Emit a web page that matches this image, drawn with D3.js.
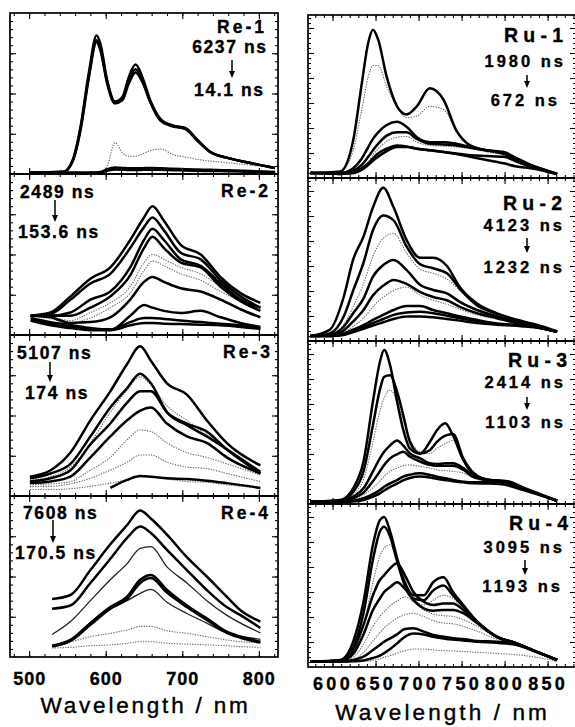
<!DOCTYPE html>
<html>
<head>
<meta charset="utf-8">
<script src="https://cdn.jsdelivr.net/npm/d3@7"></script>
<style>
body { margin: 0; background: #fff; }
text { font-family: "Liberation Sans", Arial, Helvetica, sans-serif; }
</style>
</head>
<body>
<div class="chart"></div>
<script>
// ---- data (intensity: 0 = panel bottom, 100 = panel top) ----
const re1Wl = [500, 545, 557, 567, 578, 588, 593, 602, 612, 622, 630, 639, 648, 658, 672, 688, 704, 720, 737, 759, 789, 821];
const re1Curves = [
  [0.8, 0.8, 0.8, 0.8, 0.8, 0.8, 1.2, 5, 19.5, 13, 11, 11, 12.5, 14.5, 15.5, 12, 10.5, 9, 8, 7, 5.5, 4],
  [0.8, 1.4, 8.7, 29, 63, 86, 81, 58, 45, 48, 60, 68, 60, 46, 34, 30, 28.6, 21, 13.7, 10, 6.8, 3.7],
  [0.8, 1.4, 8.5, 28, 61, 83, 78, 57, 44, 47, 58, 65, 58, 45, 33, 30, 28, 21, 13.5, 10, 6.8, 3.7],
  [0.8, 1.3, 8, 27, 60, 82, 77, 56, 44, 46, 56, 63, 57, 45, 33, 29.5, 28, 20.5, 13.5, 10, 6.8, 3.7],
  [0.8, 0.8, 0.8, 0.8, 0.8, 0.9, 1.2, 3, 4, 3.8, 3.5, 3.5, 3.6, 3.8, 3.6, 3.2, 3, 2.8, 2.6, 2.3, 1.8, 1.2],
  [0.8, 0.8, 0.8, 0.8, 0.8, 0.8, 1, 2, 2.8, 2.7, 2.5, 2.5, 2.6, 2.7, 2.6, 2.4, 2.2, 2, 1.9, 1.7, 1.4, 1]
];
const re1Kinds = ["d", "k", "k", "k", "k", "k"];

const re2Wl = [502, 528, 554, 580, 606, 632, 650, 661, 676, 698, 724, 750, 776, 802];
const re2Curves = [
  [12, 11, 9, 14, 20, 30, 45, 50, 47, 42, 38, 30, 22, 17],
  [12, 10, 7.5, 10.6, 17, 26, 40, 46, 43, 38, 34, 27, 21, 17],
  [12, 14, 24, 35, 42, 59, 73, 80, 71, 56, 50, 36, 26, 20],
  [12, 13, 22, 32, 38, 54, 67, 73, 65, 51, 47, 34, 24, 17],
  [12, 12, 14, 22, 27, 42, 59, 66, 59, 47, 43, 32, 22, 17],
  [12, 12, 12, 17, 24, 37, 54, 61, 54, 45, 42, 30, 21, 15],
  [12, 11, 7.5, 8, 11, 22, 33, 36, 33, 29, 27, 22, 16, 11],
  [10.6, 8, 6.2, 4.3, 3.1, 12, 18.6, 17, 15, 13.7, 15, 11, 7.5, 5],
  [9.3, 7, 5, 3.5, 3.5, 8, 10.5, 10.5, 10, 9, 8, 7, 6, 4.3],
  [9, 6, 4.3, 3, 3, 6, 7.5, 7.5, 7, 6.8, 6.4, 6, 5, 3.7]
];
const re2Kinds = ["d", "d", "k", "k", "k", "k", "k", "k", "k", "k"];

const re3Wl = [501, 528, 554, 580, 606, 628, 645, 659, 680, 706, 732, 758, 802];
const re3Curves = [
  [10, 12, 18, 33, 52, 66, 74, 69, 56, 47, 38, 29, 14],
  [7, 7.5, 9, 16, 24, 35, 41, 40, 33, 27, 24, 20, 13],
  [6, 6, 7.5, 11, 16, 21, 25.5, 25.5, 21, 18, 17, 14, 9],
  [4, 4, 4.5, 6, 8, 10, 12, 12, 10.5, 9, 8.5, 7, 5],
  [12, 16, 27, 47, 65, 82, 93, 84, 70, 63, 47, 33, 19],
  [11, 14, 20, 37, 55, 67, 76, 70, 52, 44, 37, 29, 15],
  [9, 11, 16, 32, 45, 58, 65, 65, 52, 45, 40, 29, 14],
  [8, 9, 12, 24, 37, 47, 53, 55, 45, 37, 33, 24, 14],
  [null, null, null, null, 5, 10, 12.4, 12, 11, 10.5, 9.5, 8, 5]
];
const re3Kinds = ["d", "d", "d", "d", "k", "k", "k", "k", "k"];

const re4Wl = [530, 554, 580, 606, 628, 645, 659, 680, 706, 732, 758, 776, 802];
const re4Curves = [
  [7.5, 9.5, 12.6, 14.7, 16.8, 19, 19, 16.3, 14.7, 12.6, 10.6, 9.5, 9],
  [5.6, 6, 7, 7.5, 8.5, 9.5, 9.5, 8.5, 8, 7.5, 7, 6.5, 6],
  [14, 22, 35, 48, 58, 67.5, 68.5, 56, 46, 35, 26, 21, 15],
  [7, 10.6, 21.5, 31, 35, 39.5, 42, 34, 27, 21, 15, 13, 11],
  [36, 38.5, 54, 70, 82, 91, 86, 76, 62, 50, 37.5, 29, 22],
  [30, 32, 46, 61, 74, 81, 77, 66.5, 54, 41.6, 31, 26, 18],
  [7, 10.6, 21, 31, 37.5, 48, 51, 41.6, 32, 24, 15.7, 12.6, 9.5],
  [6.5, 10, 20, 30, 36, 46, 49, 40, 31, 23, 15, 12, 9]
];
const re4Kinds = ["d", "d", "t", "t", "k", "k", "k", "k"];

const ru1Wl = [574, 609, 624, 634, 641.5, 647, 653, 663, 675, 686, 698, 713, 729, 744, 760, 779, 799, 814, 830, 861];
const ru1Curves = [
  [3, 4, 17, 42, 62, 69, 69, 56, 44, 37, 38, 44, 42, 29, 19, 16, 14, 11, 8, 2.5],
  [3, 3, 4, 6.5, 10, 14, 18, 22.5, 25, 25.5, 22, 20, 19.5, 19, 18, 16.5, 14.5, 11.5, 8, 2.5],
  [3, 4, 23, 58, 83, 91, 85, 62, 44, 39, 44, 55, 48, 29, 20, 17, 15, 11, 8, 2.5],
  [3, 3, 6, 12, 19, 24, 28, 32.5, 34.5, 31.5, 25, 22, 22, 21, 19, 17, 16, 12, 8, 2.5],
  [3, 3, 4.5, 8, 13, 17, 21, 26, 28, 28, 24, 21, 20.5, 20, 18.5, 17, 15, 12, 8, 2.5],
  [3, 2.5, 3, 6, 9, 12, 15, 18, 20, 19.4, 18, 17, 16, 14.7, 13, 11, 9, 7, 6, 2.5],
  [3, 2.5, 3, 5, 8, 10.5, 13, 16.5, 19, 19, 18, 17, 16, 15, 14, 13.5, 13, 10, 7, 2.5]
];
const ru1Kinds = ["d", "d", "k", "k", "k", "k", "k"];

const ru2Wl = [574, 597, 613, 624, 636, 647, 659, 671, 686, 702, 717, 733, 748, 768, 791, 814, 837, 861];
const ru2Curves = [
  [3, 4, 10, 21, 35, 52, 63, 66, 54, 44, 41.5, 38, 31, 21, 16, 12.5, 9.5, 5.7],
  [3, 3.3, 5, 9, 14, 21, 27, 31, 33, 28, 25, 22.5, 19.5, 16, 13.5, 10.5, 8, 5.7],
  [3, 7, 27, 50, 64, 82, 94, 82, 62, 51, 51, 46, 33, 23, 17, 13, 10, 6],
  [3, 4.7, 15, 31, 48, 68, 77, 74, 58, 47, 44.6, 41.5, 32, 22, 16.7, 12.7, 9.6, 5.7],
  [3, 3.7, 8.8, 17, 26, 39.5, 46.6, 49.7, 43.6, 34.4, 31.3, 29.2, 24, 19, 15, 11.8, 8.8, 5.7],
  [3, 3.5, 6.5, 12, 19, 28, 34, 37.5, 35, 30, 27, 25, 21, 17, 14, 11, 8.5, 5.7],
  [3, 3, 4.7, 7, 9.8, 12.9, 16, 19, 21.5, 21.5, 19, 17, 15, 12.9, 10.8, 9.8, 8.8, 5.7],
  [3, 3, 4, 6, 8.5, 11, 13.5, 16, 17.5, 18, 17, 15.5, 14, 12, 10.5, 9.5, 8.5, 5.7],
  [3, 3, 3.7, 5.5, 7.5, 9.5, 11.5, 13.5, 15, 15, 14.5, 13.5, 12.5, 11, 10, 9.3, 8.3, 5.7]
];
const ru2Kinds = ["d", "d", "k", "k", "k", "k", "k", "k", "k"];

const ru3Wl = [574, 609, 624, 636, 647, 655, 660, 667, 675, 682, 690, 702, 713, 721, 731, 740, 752, 764, 783, 803, 822, 861];
const ru3Curves = [
  [1.4, 2, 6, 15, 38, 57, 65, 70, 63, 52, 40, 32, 31, 34, 37, 39, 27, 19, 14.5, 13.7, 9.6, 2],
  [1.4, 1.4, 3, 5.5, 10, 14, 17, 20, 22, 23.5, 24, 23, 22, 21, 20.5, 20, 19, 16, 14, 13, 9.5, 2],
  [1.4, 2.5, 9.6, 26, 63, 87, 94.5, 85, 63, 46, 34, 31, 38, 45, 49.5, 42, 27, 18, 14.7, 14, 10, 2],
  [1.4, 2, 7.5, 20, 48.5, 70, 78, 79, 69, 55, 38, 31, 33, 38, 42, 43, 28, 19, 14.5, 13.7, 9.6, 2],
  [1.4, 1.4, 4.5, 9.6, 20, 28, 32, 36, 39, 36, 31, 28, 25, 24.5, 25, 25, 22, 16.8, 14.7, 13.7, 9.6, 2],
  [1.4, 1.4, 3.5, 7, 14, 20, 24, 28, 30.5, 32, 29, 26, 24, 23.5, 23.5, 23.5, 21, 16.5, 14.5, 13.5, 9.6, 2],
  [1.4, 1.4, 2, 3.5, 6, 8.6, 10.6, 12.7, 14.7, 16.8, 18, 18.8, 17.8, 16.8, 15.8, 14.7, 13.7, 13.3, 13.7, 12.7, 9.2, 2],
  [1.4, 1.4, 1.6, 2.5, 4.5, 6.5, 8.3, 10.5, 12.5, 14.5, 16, 16.8, 16.3, 15.5, 14.7, 14, 13.3, 12.7, 12.5, 11.5, 8.5, 2]
];
const ru3Kinds = ["d", "d", "k", "k", "k", "k", "k", "k"];

const ru4Wl = [574, 609, 624, 636, 647, 655, 660, 667, 675, 684, 694, 706, 717, 729, 740, 752, 768, 791, 814, 837, 861];
const ru4Curves = [
  [3.3, 4, 9, 25, 52, 68, 73, 75, 64, 50, 42, 38, 41, 44, 42, 35, 27, 18.5, 14.5, 9.4, 4.3],
  [3.3, 3.4, 6, 14, 25, 31, 34, 37.5, 40.5, 43, 40, 35, 32.5, 31.5, 31, 29, 25, 18, 14, 9.3, 4.3],
  [3.3, 3.3, 4.5, 9, 16, 21, 24, 27, 30, 32, 33, 31, 28.5, 27, 26.5, 25, 22, 17, 13.5, 9.2, 4.3],
  [3.3, 3.3, 3.3, 3.5, 4, 5, 6, 7, 8.5, 10, 11, 11, 10.5, 10, 9.8, 9.5, 9, 8.3, 7.5, 6, 3.5],
  [3.3, 4.3, 15.5, 40, 75, 90, 92, 83, 67, 52, 44, 44, 52, 55, 46, 38, 28, 18.6, 14.5, 9.4, 4.3],
  [3.3, 4, 12, 33, 66, 83, 86, 80, 65, 50, 42, 41, 47, 50, 44, 37, 27.5, 18.5, 14.5, 9.4, 4.3],
  [3.3, 3.8, 10.4, 25.8, 44, 53.4, 56.4, 60.5, 63.6, 56.4, 46, 40, 38, 39, 39, 35, 27.8, 18.6, 14.5, 9.4, 4.3],
  [3.3, 3.5, 8, 20, 35, 42, 46, 49, 52, 48, 41, 36, 34.5, 35, 35, 33, 27, 18.5, 14.5, 9.4, 4.3],
  [3.3, 3.3, 4.3, 6.3, 10.4, 13.5, 15.5, 17.6, 20, 23.3, 23.7, 21.7, 19.6, 18.6, 17.6, 17.2, 16, 15.5, 14, 9.4, 4.3],
  [3.3, 3.3, 3.5, 4, 5.5, 7, 8.5, 11, 14.5, 18.5, 20.5, 20, 18.5, 17.5, 16.8, 16.3, 15.5, 14.8, 13.5, 9.2, 4.3]
];
const ru4Kinds = ["d", "d", "d", "d", "k", "k", "k", "k", "k", "k"];

const reNames = ["Re-1", "Re-2", "Re-3", "Re-4"];
const reFrom = ["6237 ns", "2489 ns", "5107 ns", "7608 ns"];
const reTo = ["14.1 ns", "153.6 ns", "174 ns", "170.5 ns"];
const ruNames = ["Ru-1", "Ru-2", "Ru-3", "Ru-4"];
const ruFrom = ["1980 ns", "4123 ns", "2414 ns", "3095 ns"];
const ruTo = ["672 ns", "1232 ns", "1103 ns", "1193 ns"];

const leftTickLabels = [500, 600, 700, 800];
const rightTickLabels = [600, 650, 700, 750, 800, 850];
const xTitle = "Wavelength / nm";

// ---- layout ----
const W = 575, H = 727;
const svg = d3.select('.chart').append('svg')
  .attr('width', W)
  .attr('height', H);

const xLeft = d3.scaleLinear().domain([475, 825]).range([10, 278]);
const xRight = d3.scaleLinear().domain([571.5, 883]).range([308, 576]);
const leftEdges = [13, 174, 335, 496, 657];
const rightEdges = [15, 178, 341, 504, 667];

const leftPanels = [
  {wl: re1Wl, curves: re1Curves, kinds: re1Kinds},
  {wl: re2Wl, curves: re2Curves, kinds: re2Kinds},
  {wl: re3Wl, curves: re3Curves, kinds: re3Kinds},
  {wl: re4Wl, curves: re4Curves, kinds: re4Kinds}
];
const rightPanels = [
  {wl: ru1Wl, curves: ru1Curves, kinds: ru1Kinds},
  {wl: ru2Wl, curves: ru2Curves, kinds: ru2Kinds},
  {wl: ru3Wl, curves: ru3Curves, kinds: ru3Kinds},
  {wl: ru4Wl, curves: ru4Curves, kinds: ru4Kinds}
];

const styles = {
  k: {stroke: '#000', width: 2.5, dash: null},
  t: {stroke: '#222', width: 1.3, dash: null},
  d: {stroke: '#666', width: 1.1, dash: '1.3,1.3'}
};

function edgeTicks(g, axisFn, scale, values, size) {
  g.call(axisFn(scale).tickValues(values).tickSize(-size).tickFormat(''))
    .call(s => s.select('.domain').remove())
    .selectAll('line').attr('stroke', '#000').attr('stroke-width', 1.1);
}

function drawPanel(p, xScale, top, bottom, xMajor, xMinor, yMajor, yMinor) {
  const y = d3.scaleLinear().domain([0, 100]).range([bottom, top]);
  const g = svg.append('g');
  const [x0, x1] = xScale.range();

  const line = d3.line()
    .defined(d => d[1] != null)
    .x(d => xScale(d[0]))
    .y(d => y(d[1]))
    .curve(d3.curveMonotoneX);

  // dotted first, heavy lines on top
  ['d', 't', 'k'].forEach(kind => {
    p.curves.forEach((c, i) => {
      if (p.kinds[i] !== kind) return;
      const st = styles[kind];
      g.append('path')
        .datum(p.wl.map((w, j) => [w, c[j]]))
        .attr('d', line)
        .attr('fill', 'none')
        .attr('stroke', st.stroke)
        .attr('stroke-width', st.width)
        .attr('stroke-linejoin', 'round')
        .attr('stroke-dasharray', st.dash);
    });
  });

  // ticks on all four edges, pointing inward
  edgeTicks(g.append('g').attr('transform', `translate(0,${bottom})`), d3.axisBottom, xScale, xMinor, 3);
  edgeTicks(g.append('g').attr('transform', `translate(0,${bottom})`), d3.axisBottom, xScale, xMajor, 6);
  edgeTicks(g.append('g').attr('transform', `translate(0,${top})`), d3.axisTop, xScale, xMinor, 3);
  edgeTicks(g.append('g').attr('transform', `translate(0,${top})`), d3.axisTop, xScale, xMajor, 6);
  edgeTicks(g.append('g').attr('transform', `translate(${x0},0)`), d3.axisLeft, y, yMinor, 3);
  edgeTicks(g.append('g').attr('transform', `translate(${x0},0)`), d3.axisLeft, y, yMajor, 6);
  edgeTicks(g.append('g').attr('transform', `translate(${x1},0)`), d3.axisRight, y, yMinor, 3);
  edgeTicks(g.append('g').attr('transform', `translate(${x1},0)`), d3.axisRight, y, yMajor, 6);

  g.append('rect')
    .attr('x', x0).attr('y', top)
    .attr('width', x1 - x0).attr('height', bottom - top)
    .attr('fill', 'none')
    .attr('stroke', '#000')
    .attr('stroke-width', 1.7);
}

const lxMajor = d3.range(500, 801, 100);
const lxMinor = d3.range(480, 821, 20);
const lyMajor = [25, 50, 75];
const lyMinor = d3.range(5, 100, 5);
const rxMajor = d3.range(600, 851, 50);
const rxMinor = d3.range(580, 881, 10);
const rStep = 25 / 163 * 100;
const ryMajor = d3.range(1, 7).map(i => i * rStep);
const ryMinor = d3.range(1, 33).map(i => i * rStep / 5);

leftPanels.forEach((p, i) => drawPanel(p, xLeft, leftEdges[i], leftEdges[i + 1], lxMajor, lxMinor, lyMajor, lyMinor));
rightPanels.forEach((p, i) => drawPanel(p, xRight, rightEdges[i], rightEdges[i + 1], rxMajor, rxMinor, ryMajor, ryMinor));

// ---- annotations ----
function label(x, y, txt, size, ls, anchor) {
  svg.append('text')
    .attr('x', anchor === 'end' ? x + ls : x)
    .attr('y', y)
    .attr('text-anchor', anchor)
    .attr('font-size', size)
    .attr('font-weight', 'bold')
    .attr('letter-spacing', ls)
    .attr('stroke', '#000')
    .attr('stroke-width', 0.35)
    .text(txt);
}
function arrow(x, y1, y2) {
  svg.append('line')
    .attr('x1', x).attr('x2', x).attr('y1', y1).attr('y2', y2 - 5)
    .attr('stroke', '#000').attr('stroke-width', 1.5);
  svg.append('path')
    .attr('d', `M${x - 3},${y2 - 7}L${x + 3},${y2 - 7}L${x},${y2}Z`)
    .attr('fill', '#000');
}

const annLeft = [
  {name: [264, 27], from: [266, 47, 'end'], arr: [232, 60, 78], to: [263, 90, 'end']},
  {name: [268, 191], from: [20, 192, 'start'], arr: [55, 200, 222], to: [18, 232, 'start']},
  {name: [270, 352], from: [17, 353, 'start'], arr: [50, 362, 382], to: [25, 393, 'start']},
  {name: [268, 513], from: [23, 513, 'start'], arr: [53, 520, 543], to: [15, 553, 'start']}
];
annLeft.forEach((a, i) => {
  label(a.name[0], a.name[1] + 6, reNames[i], 17.5, 3, 'end');
  label(a.from[0], a.from[1] + 6, reFrom[i], 17.5, 1.6, a.from[2]);
  arrow(a.arr[0], a.arr[1], a.arr[2]);
  label(a.to[0], a.to[1] + 6, reTo[i], 17.5, 1.6, a.to[2]);
});

const annRight = [
  {name: [563, 35], from: [563, 61], arr: [527, 75, 88], to: [557, 100]},
  {name: [562, 203], from: [562, 225], arr: [527, 238, 253], to: [562, 267]},
  {name: [567, 360], from: [563, 382], arr: [527, 397, 410], to: [563, 422]},
  {name: [568, 523], from: [562, 547], arr: [525, 560, 575], to: [560, 586]}
];
annRight.forEach((a, i) => {
  label(a.name[0], a.name[1] + 7, ruNames[i], 19.5, 5.2, 'end');
  label(a.from[0], a.from[1] + 6, ruFrom[i], 16.5, 3, 'end');
  arrow(a.arr[0], a.arr[1], a.arr[2]);
  label(a.to[0], a.to[1] + 6, ruTo[i], 16.5, 3, 'end');
});

// ---- bottom axes labels ----
const leftAxis = svg.append('g')
  .attr('transform', `translate(0,${leftEdges[4]})`)
  .call(d3.axisBottom(xLeft).tickValues(leftTickLabels).tickSize(0).tickPadding(15));
leftAxis.select('.domain').remove();
leftAxis.selectAll('text')
  .attr('font-family', '"Liberation Sans", Arial, sans-serif')
  .attr('font-size', 18).attr('font-weight', 'bold').attr('letter-spacing', 1)
  .attr('fill', '#000').attr('stroke', '#000').attr('stroke-width', 0.35);

const rightAxis = svg.append('g')
  .attr('transform', `translate(0,${rightEdges[4]})`)
  .call(d3.axisBottom(xRight).tickValues(rightTickLabels).tickSize(0).tickPadding(10));
rightAxis.select('.domain').remove();
rightAxis.selectAll('text')
  .attr('font-family', '"Liberation Sans", Arial, sans-serif')
  .attr('font-size', 18).attr('font-weight', 'bold').attr('letter-spacing', 3.3)
  .attr('fill', '#000').attr('stroke', '#000').attr('stroke-width', 0.35);

svg.append('text')
  .attr('x', 144 + 1.5).attr('y', 713)
  .attr('text-anchor', 'middle')
  .attr('font-size', 22.5).attr('letter-spacing', 2.8)
  .attr('stroke', '#000').attr('stroke-width', 0.4)
  .text(xTitle);
svg.append('text')
  .attr('x', 441 + 1.6).attr('y', 720)
  .attr('text-anchor', 'middle')
  .attr('font-size', 22.5).attr('letter-spacing', 3.1)
  .attr('stroke', '#000').attr('stroke-width', 0.4)
  .text(xTitle);
</script>
</body>
</html>
